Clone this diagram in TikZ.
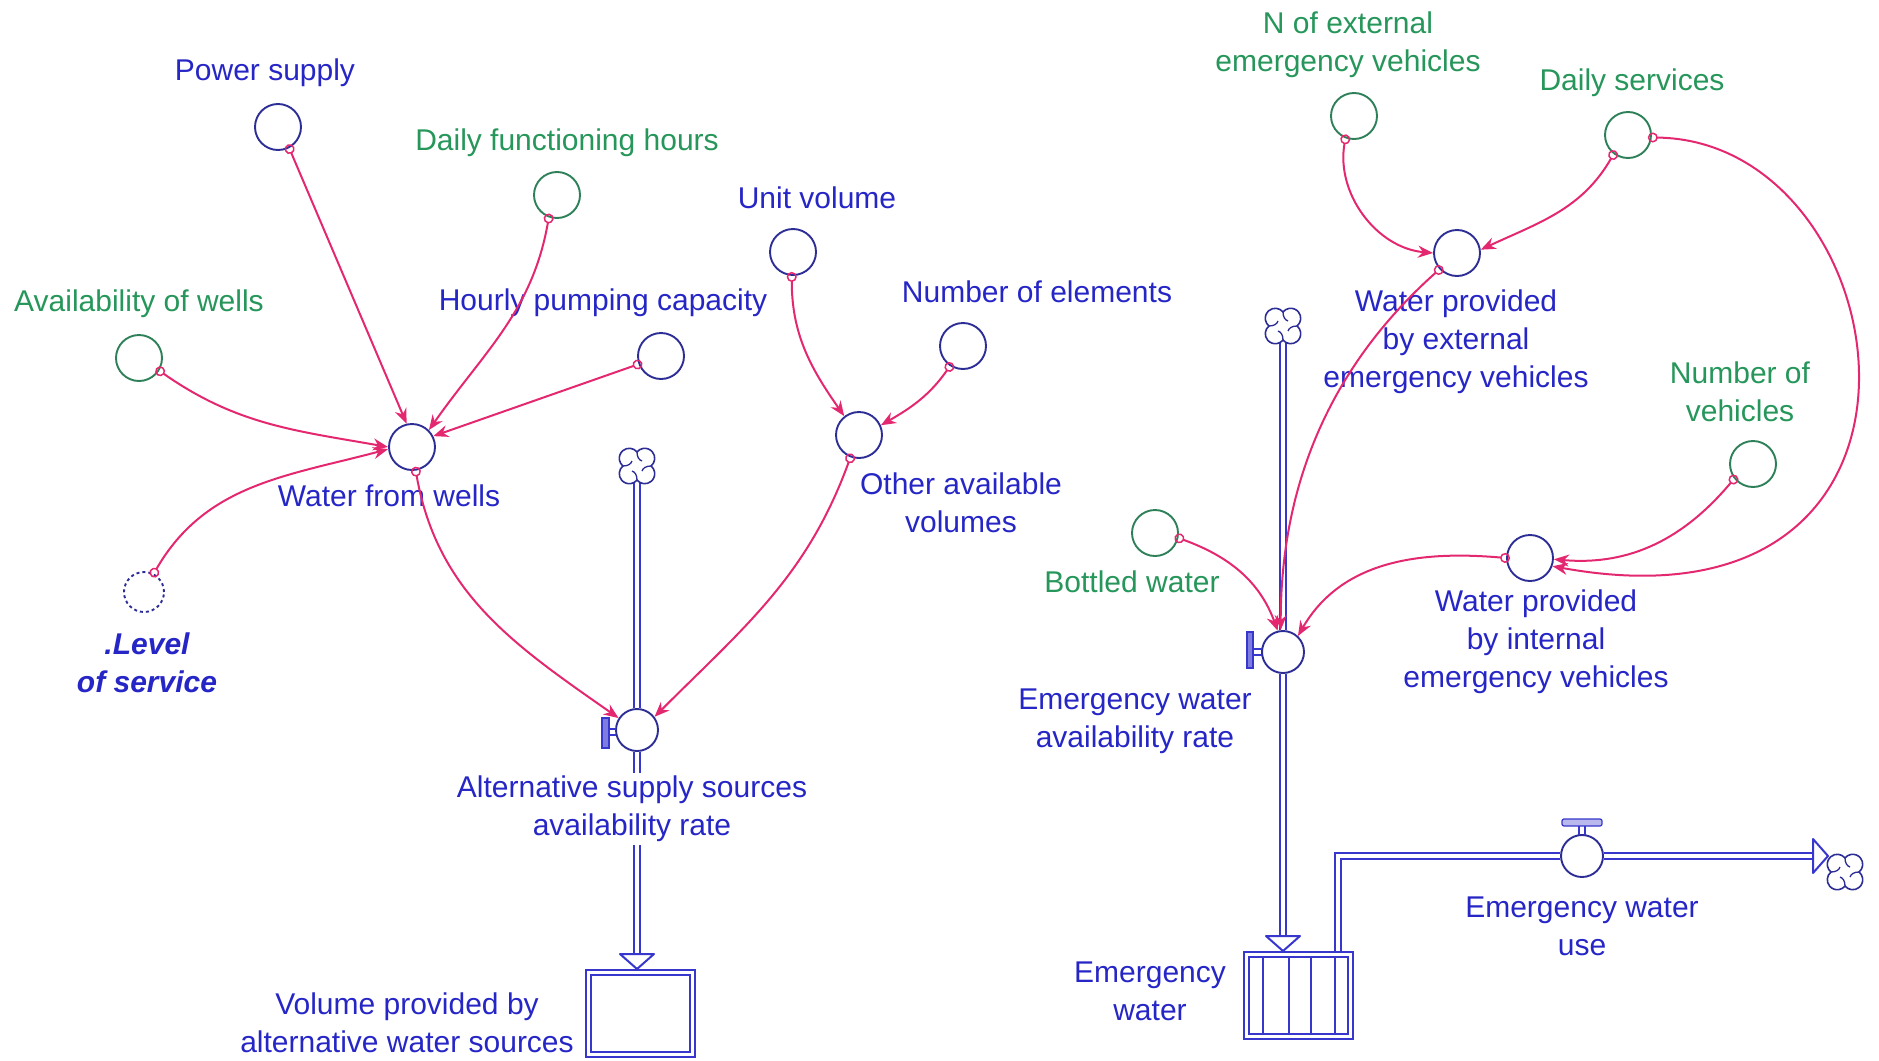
\documentclass[tikz,border=0pt]{standalone}
\usepackage{fontspec}
\setmainfont{Liberation Sans}
\usetikzlibrary{arrows.meta,backgrounds,calc}
\definecolor{txtblue}{RGB}{38,38,198}
\definecolor{txtgreen}{RGB}{38,150,90}
\definecolor{rimblue}{RGB}{45,45,150}
\definecolor{rimgreen}{RGB}{45,128,88}
\definecolor{linkred}{RGB}{228,40,112}
\definecolor{pipeblue}{RGB}{55,55,205}
\tikzset{
  cloudpic/.pic={
    \draw[draw=rimblue, line width=1.6pt, fill=white]
      (0,14.08) arc[start angle=39.6,end angle=230.4,radius=10]
      arc[start angle=129.6,end angle=320.4,radius=10]
      arc[start angle=219.6,end angle=410.4,radius=10]
      arc[start angle=-50.4,end angle=140.4,radius=10] -- cycle;
    \foreach \a in {0,90,180,270}
      \draw[draw=rimblue, line width=1.3pt, rotate=\a]
        (0,14.08) .. controls (0,9) and (2,6) .. (5,5);
  }
}
\begin{document}
\begin{tikzpicture}[x=1pt,y=1pt,
  every node/.style={font=\fontsize{30}{38}\selectfont},
  aux/.style={circle, draw=rimblue, line width=1.9pt, minimum size=46pt, inner sep=0pt, fill=white},
  const/.style={aux, draw=rimgreen},
  valve/.style={aux, minimum size=42pt},
  shadowaux/.style={aux, minimum size=40pt, dash pattern=on 3pt off 3pt},
  cloudspot/.style={circle, minimum size=34pt, inner sep=0pt},
  stock/.style={rectangle, draw=pipeblue, line width=1.6pt, double=white, double distance=3pt,
                minimum width=104pt, minimum height=82pt, inner sep=0pt, fill=white},
  lbl/.style={text=txtblue, align=center, inner sep=1pt},
  glbl/.style={lbl, text=txtgreen},
  link/.style={draw=linkred, line width=2pt, shorten <=-4pt,
               {Circle[open,length=10pt,width=10pt,line width=1.5pt]}-{Stealth[length=15pt,width=12pt]}},
  pipe/.style={draw=pipeblue, line width=2pt, double=white, double distance=4.5pt},
  pipehead/.style={draw=pipeblue, line width=2pt, fill=white, line join=round},
  valvebar/.style={draw=pipeblue, line width=1.2pt, fill=pipeblue!65},
]
\useasboundingbox (0,0) rectangle (1879,-1060);

% ---------- left sector: alternative supply sources ----------
\node[aux]   (ps)  at (278,-127) {};
\node[const] (dfh) at (557,-195) {};
\node[const] (aw)  at (139,-358) {};
\node[aux]   (hpc) at (661,-356) {};
\node[aux]   (wfw) at (412,-447) {};
\node[shadowaux] (los) at (144,-592) {};
\node[aux]   (uv)  at (793,-252) {};
\node[aux]   (noe) at (963,-346) {};
\node[aux]   (oav) at (859,-435) {};
\node[cloudspot] (cA) at (637,-466) {};
\pic at (cA) {cloudpic};
\node[valve] (altv) at (637,-730) {};
\node[stock] (stA) at (640.5,-1013.5) {};
\coordinate (tipA) at (637,-969);
\coordinate (baseA) at (637,-954);

\node[lbl]  (psl)  at (265,-73)  {Power supply};
\node[glbl] (dfhl) at (567,-143) {Daily functioning hours};
\node[glbl] (awl)  at (139,-304) {Availability of wells};
\node[lbl]  (hpcl) at (603,-303) {Hourly pumping capacity};
\node[lbl]  (wfwl) at (389,-496) {Water from wells};
\node[lbl, font=\fontsize{30}{38}\selectfont\bfseries\itshape] (losl) at (147,-663) {.Level\\of service};
\node[lbl]  (uvl)  at (817,-198) {Unit volume};
\node[lbl]  (noel) at (1037,-292) {Number of elements};
\node[lbl]  (oavl) at (961,-503) {Other available\\volumes};
\node[lbl, fill=white, inner sep=3pt] (altl) at (632,-809) {Alternative supply sources\\availability rate};
\node[lbl]  (stAl) at (407,-1023) {Volume provided by\\alternative water sources};

% valve handle of the alternative supply rate
\draw[valvebar] (602,-718) rectangle (609,-748);
\draw[draw=pipeblue, line width=1.2pt] (609,-729) -- (616,-729) (609,-735) -- (616,-735);

% ---------- right sector: emergency water ----------
\node[const] (next) at (1354,-116) {};
\node[const] (ds)   at (1628,-135) {};
\node[aux]   (wpe)  at (1457,-253) {};
\node[const] (nov)  at (1753,-464) {};
\node[const] (bw)   at (1155,-533) {};
\node[aux]   (wpi)  at (1530,-558) {};
\node[cloudspot] (cE) at (1283,-326) {};
\pic at (cE) {cloudpic};
\node[valve] (ewv)  at (1283,-652) {};
\node[stock] (stE)  at (1298.5,-995.5) {};
\node[valve] (ewu)  at (1582,-856) {};
\node[cloudspot] (cU) at (1845,-872) {};
\pic at (cU) {cloudpic};
\coordinate (tipE)  at (1283,-951);
\coordinate (baseE) at (1283,-937);
\coordinate (outS)  at (1338,-953);
\coordinate (outC)  at (1338,-856);
\coordinate (tipU)  at (1828,-856);
\coordinate (baseU) at (1813,-856);

% compartments of the emergency water stock
\foreach \xx in {1263,1289,1311,1335}
  \draw[draw=pipeblue, line width=1.5pt] (\xx,-956) -- (\xx,-1035);

\node[glbl] (nextl) at (1348,-45) {N of external\\emergency vehicles};
\node[glbl] (dsl)   at (1632,-83) {Daily services};
\node[lbl]  (wpel)  at (1456,-342) {Water provided\\by external\\emergency vehicles};
\node[glbl] (novl)  at (1740,-392) {Number of\\vehicles};
\node[glbl] (bwl)   at (1132,-582) {Bottled water};
\node[lbl]  (wpil)  at (1536,-642) {Water provided\\by internal\\emergency vehicles};
\node[lbl]  (ewvl)  at (1135,-721) {Emergency water\\availability rate};
\node[lbl]  (stEl)  at (1150,-991) {Emergency\\water};
\node[lbl]  (ewul)  at (1582,-926) {Emergency water\\use};

% valve handles of the emergency rates
\draw[valvebar] (1247,-632) rectangle (1253,-668);
\draw[draw=pipeblue, line width=1.2pt] (1253,-649) -- (1262,-649) (1253,-655) -- (1262,-655);
\draw[valvebar, rounded corners=2pt, fill=pipeblue!35] (1562,-819) rectangle (1602,-826);
\draw[draw=pipeblue, line width=1.2pt] (1579,-826) -- (1579,-835) (1585,-826) -- (1585,-835);

% ---------- material flows ----------
\begin{pgfonlayer}{background}
  \draw[pipe] (cA) -- (altv) -- (baseA);
  \draw[pipe] (cE) -- (ewv) -- (baseE);
  \draw[pipe] (outS) -- (outC) -- (ewu) -- (baseU);
\end{pgfonlayer}
\draw[pipehead] (tipA) -- ++(-17,15) -- ++(34,0) -- cycle;
\draw[pipehead] (tipE) -- ++(-17,15) -- ++(34,0) -- cycle;
\draw[pipehead] (tipU) -- ++(-15,17) -- ++(0,-34) -- cycle;

% ---------- information links ----------
\draw[link] (ps.-62) -- (wfw.103);
\draw[link] (dfh.-110) to[out=-100,in=55] (wfw.45);
\draw[link] (hpc.200) -- (wfw.27);
\draw[link] (aw.-32) to[out=-35,in=170] (wfw.180);
\draw[link] (los.62) to[out=60,in=195] (wfw.185);
\draw[link] (wfw.-81) to[out=-80,in=145] (altv.147);
\draw[link] (oav.-111) to[out=-110,in=45] (altv.37);
\draw[link] (uv.-93) to[out=-90,in=125] (oav.128);
\draw[link] (noe.-123) to[out=-125,in=30] (oav.24);

\draw[link] (next.-111) to[out=-100,in=175] (wpe.180);
\draw[link] (ds.-127) to[out=-120,in=25] (wpe.8);
\draw[link] (ds.-6) .. controls +(253,-3) and +(427,-78) .. (wpi.-20);
\draw[link] (nov.-142) to[out=-130,in=-5] (wpi.-3);
\draw[link] (wpe.223) .. controls +(-90,-80) and +(0,170) .. (ewv.96);
\draw[link] (bw.-12) to[out=-20,in=110] (ewv.104);
\draw[link] (wpi.180) to[out=175,in=60] (ewv.47);
\end{tikzpicture}
\end{document}
